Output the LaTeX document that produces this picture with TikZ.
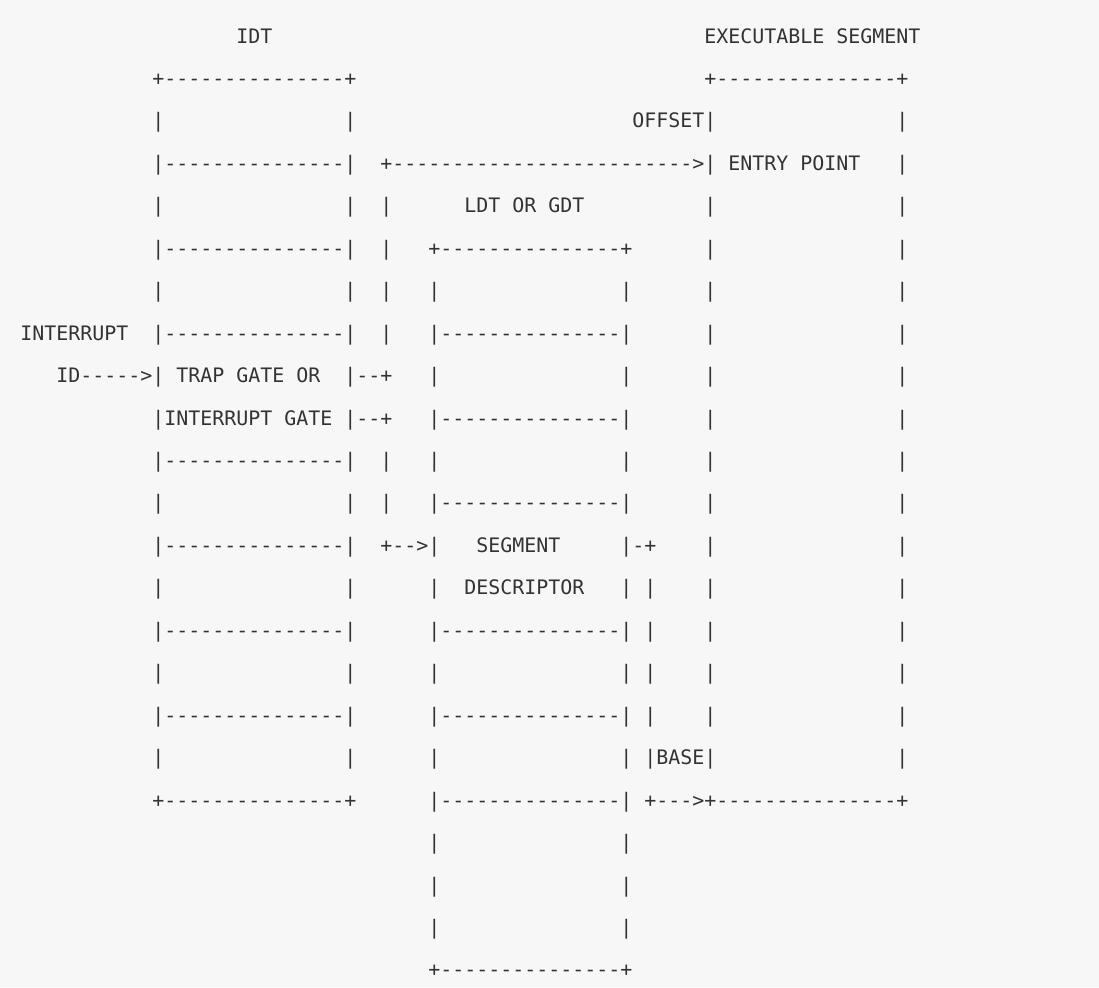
\documentclass[tikz,border=0pt]{standalone}
\usepackage{fontspec}
\setmonofont{DejaVu Sans Mono}
\definecolor{paper}{HTML}{F7F7F7}
\definecolor{ink}{HTML}{333333}
\tikzset{
  asc/.style={anchor=base west,inner sep=0pt,outer sep=0pt,text=ink,
    font=\ttfamily\fontsize{9.966pt}{12pt}\selectfont}
}

\begin{document}
\begin{tikzpicture}[x=6pt,y=-21.225pt]
  \fill[paper] (0pt,0pt) rectangle (549.5pt,-493.5pt);
  \useasboundingbox (0pt,0pt) rectangle (549.5pt,-493.5pt);

  \begin{scope}[shift={(4.15pt,-0.275pt)}]
  % titles
  \node[asc] (idt-title) at (19,1) {IDT};
  \node[asc] (seg-title) at (58,1) {EXECUTABLE SEGMENT};

  % IDT table
  \node[asc] (idt-top) at (12,2) {+---------------+};
  \foreach \r in {4,6,8,11,13,15,17}
    \node[asc] (idt-rule-\r) at (12,\r) {|---------------|};
  \foreach \r in {3,5,7,12,14,16,18} {
    \node[asc] (idt-l-\r) at (12,\r) {|};
    \node[asc] (idt-r-\r) at (28,\r) {|};
  }
  \node[asc] (idt-bot) at (12,19) {+---------------+};
  \node[asc] (int-lbl) at (1,8) {INTERRUPT};
  \node[asc] (gate1) at (4,9) {ID----->| TRAP GATE OR};
  \node[asc] (gate1-out) at (28,9) {|--+};
  \node[asc] (gate2) at (12,10) {|INTERRUPT GATE |--+};

  % selector link
  \foreach \r in {5,6,7,8,11,12}
    \node[asc] (link-\r) at (31,\r) {|};
  \node[asc] (off-arrow) at (31,4) {+------------------------->|};
  \node[asc] (desc-arrow) at (31,13) {+-->|};

  % LDT or GDT
  \node[asc] (ldt-title) at (38,5) {LDT OR GDT};
  \node[asc] (ldt-top) at (35,6) {+---------------+};
  \foreach \r in {8,10,12,15,17,19}
    \node[asc] (ldt-rule-\r) at (35,\r) {|---------------|};
  \foreach \r in {7,9,11,16,18,20,21,22} {
    \node[asc] (ldt-l-\r) at (35,\r) {|};
    \node[asc] (ldt-r-\r) at (51,\r) {|};
  }
  \node[asc] (desc1) at (39,13) {SEGMENT};
  \node[asc] (desc1-out) at (51,13) {|-+};
  \node[asc] (desc-l) at (35,14) {|};
  \node[asc] (desc2) at (38,14) {DESCRIPTOR};
  \node[asc] (desc-r) at (51,14) {|};
  \node[asc] (ldt-bot) at (35,23) {+---------------+};

  % base link
  \foreach \r in {14,...,17}
    \node[asc] (base-\r) at (53,\r) {|};
  \node[asc] (base-lbl) at (53,18) {|BASE|};
  \node[asc] (base-arrow) at (53,19) {+--->};

  % executable segment
  \node[asc] (seg-top) at (58,2) {+---------------+};
  \node[asc] (off-lbl) at (52,3) {OFFSET|};
  \node[asc] (entry) at (60,4) {ENTRY POINT};
  \foreach \r in {5,...,17}
    \node[asc] (seg-l-\r) at (58,\r) {|};
  \foreach \r in {3,...,18}
    \node[asc] (seg-r-\r) at (74,\r) {|};
  \node[asc] (seg-bot) at (58,19) {+---------------+};
  \end{scope}
\end{tikzpicture}
\end{document}
